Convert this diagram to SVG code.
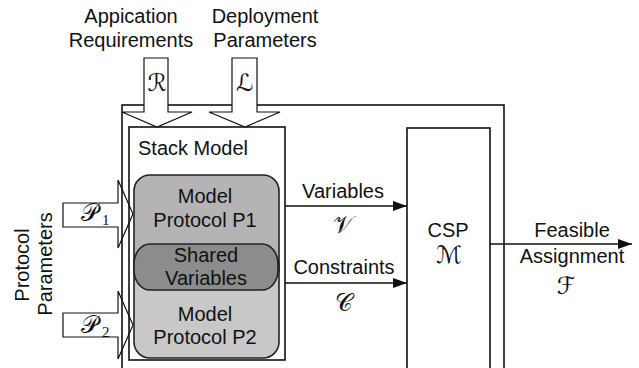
<svg xmlns="http://www.w3.org/2000/svg" width="639" height="368" viewBox="0 0 639 368">
  <style>
    text { font-family: "Liberation Sans", Arial, sans-serif; font-size: 20px; fill: #111; }
    .c { text-anchor: middle; }
    .cal { font-family: "DejaVu Sans", "Liberation Serif", serif; font-size: 24px; font-weight: normal; }
    .sub { font-family: "Liberation Serif", serif; font-size: 15px; }
    .box { fill: none; stroke: #111; stroke-width: 1.6; }
    .blk { fill: #fff; stroke: #111; stroke-width: 1.2; stroke-linejoin: miter; }
    .line { fill: none; stroke: #111; stroke-width: 1.6; }
  </style>
  <defs>
    <marker id="arr" viewBox="0 0 14 10" refX="14" refY="5" markerWidth="14" markerHeight="10" markerUnits="userSpaceOnUse" orient="auto">
      <path d="M0,0 L14,5 L0,10 Z" fill="#111"/>
    </marker>
  </defs>
  <rect width="639" height="368" fill="#fff"/>

  <!-- protocol parameter inputs (under the frames) -->
  <g id="input-p1">
    <polygon class="blk" points="63,203 118,203 118,180 133,214 118,248 118,227 63,227"/>
    <text class="cal" x="81" y="221">𝒫</text>
    <text class="sub" x="102" y="225">1</text>
  </g>
  <g id="input-p2">
    <polygon class="blk" points="63,313 118,313 118,291 133,325 118,359 118,337 63,337"/>
    <text class="cal" x="81" y="333">𝒫</text>
    <text class="sub" x="102" y="337">2</text>
  </g>
  <g id="protocol-parameters-label">
    <text class="c" transform="translate(29,265) rotate(-90)">Protocol</text>
    <text class="c" transform="translate(52,264) rotate(-90)">Parameters</text>
  </g>

  <!-- outer frame and stack model frame -->
  <g id="frame">
    <rect class="box" x="122" y="105" width="382" height="280"/>
  </g>
  <g id="stack-model">
    <rect class="box" x="129" y="127" width="156" height="233"/>
    <text x="138" y="155">Stack Model</text>
  </g>

  <!-- requirement / deployment inputs -->
  <g id="input-requirements">
    <text class="c" x="131" y="23">Appication</text>
    <text class="c" x="131" y="47">Requirements</text>
    <polygon class="blk" points="144,58 168,58 168,112 192,112 157,127 122,112 144,112"/>
    <text class="cal c" x="157" y="91">ℛ</text>
  </g>
  <g id="input-deployment">
    <text class="c" x="265" y="23">Deployment</text>
    <text class="c" x="265" y="47">Parameters</text>
    <polygon class="blk" points="232,58 257,58 257,112 280,112 245,127 209,112 232,112"/>
    <text class="cal c" x="245" y="91">ℒ</text>
  </g>

  <!-- protocol models -->
  <g id="model-p1">
    <rect x="134" y="175" width="145" height="110" rx="16" fill="#b4b4b4" stroke="#222" stroke-width="1.6"/>
    <text class="c" x="205" y="203">Model</text>
    <text class="c" x="205" y="227">Protocol P1</text>
  </g>
  <g id="model-p2">
    <rect x="134" y="250" width="145" height="108" rx="16" fill="#c8c8c8" stroke="#222" stroke-width="1.6"/>
    <text class="c" x="205" y="321">Model</text>
    <text class="c" x="205" y="344">Protocol P2</text>
  </g>
  <g id="shared-variables">
    <rect x="134" y="244" width="144" height="46" rx="16" ry="20" fill="#8c8c8c" stroke="#222" stroke-width="1.6"/>
    <text class="c" x="206" y="262">Shared</text>
    <text class="c" x="206" y="285">Variables</text>
  </g>

  <!-- solver -->
  <g id="csp">
    <rect class="box" x="407" y="128" width="83" height="260"/>
    <text class="c" x="448" y="237">CSP</text>
    <text class="cal c" x="449" y="263">ℳ</text>
  </g>

  <g id="connectors">
    <line class="line" x1="285" y1="206" x2="407" y2="206" marker-end="url(#arr)"/>
    <line class="line" x1="285" y1="283" x2="407" y2="283" marker-end="url(#arr)"/>
    <line class="line" x1="490" y1="244" x2="632" y2="244" marker-end="url(#arr)"/>
  </g>
  <g id="connector-labels">
    <text class="c" x="343" y="198">Variables</text>
    <text class="cal c" x="343" y="233">𝒱</text>
    <text class="c" x="344" y="274">Constraints</text>
    <text class="cal c" x="344" y="311">𝒞</text>
    <text class="c" x="572" y="237">Feasible</text>
    <text class="c" x="572" y="263">Assignment</text>
    <text class="cal c" x="566" y="294">ℱ</text>
  </g>
</svg>
